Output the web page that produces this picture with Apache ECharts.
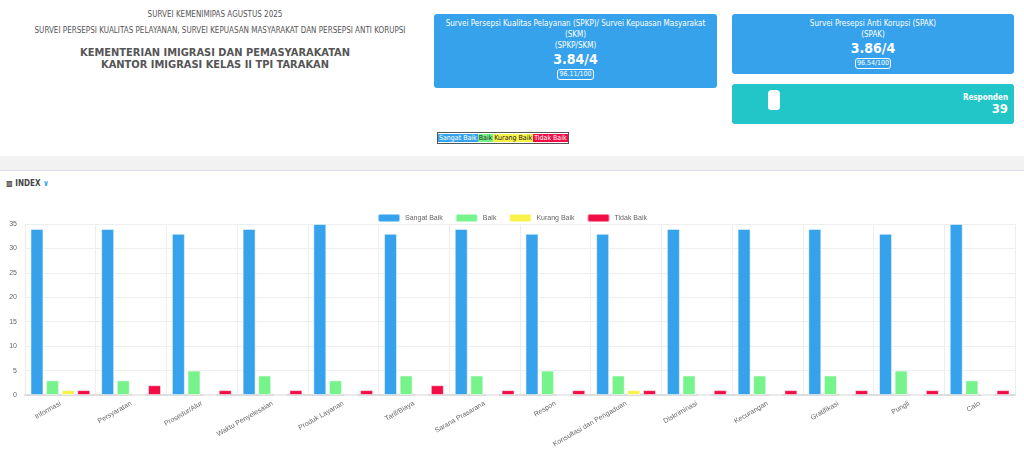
<!DOCTYPE html>
<html><head><meta charset="utf-8">
<script src="https://cdn.jsdelivr.net/npm/echarts@6/dist/echarts.min.js"></script>
<style>
body{margin:0;width:1024px;height:453px;background:#fff;font-family:"Liberation Sans Narrow","DejaVu Sans Condensed",Arial,sans-serif;position:relative;overflow:hidden;color:#555}
.abs{position:absolute}
.card{position:absolute;background:#36a2eb;color:#fff;border-radius:3px;text-align:center;font-size:8px;line-height:11px}
.big{font-size:14px;font-weight:bold;line-height:17px}
.box{display:inline-block;border:1px solid #fff;border-radius:3px;font-size:7px;line-height:9px;padding:0 1px}
</style></head><body>
<div class="abs" style="left:0;width:430px;top:10px;text-align:center;font-size:8px">SURVEI KEMENIMIPAS AGUSTUS 2025</div>
<div class="abs" style="left:20px;width:400px;top:26px;text-align:center;font-size:8px;line-height:10px">SURVEI PERSEPSI KUALITAS PELAYANAN, SURVEI KEPUASAN MASYARAKAT DAN PERSEPSI ANTI KORUPSI</div>
<div class="abs" style="left:0;width:430px;top:47px;text-align:center;font-size:11px;font-weight:bold;line-height:12px">KEMENTERIAN IMIGRASI DAN PEMASYARAKATAN<br>KANTOR IMIGRASI KELAS II TPI TARAKAN</div>
<div class="card" style="left:434px;top:14px;width:283px;height:70px;padding-top:4px">Survei Persepsi Kualitas Pelayanan (SPKP)/ Survei Kepuasan Masyarakat<br>(SKM)<br>(SPKP/SKM)<br><span class="big">3.84/4</span><br><span class="box">96.11/100</span></div>
<div class="card" style="left:732px;top:14px;width:282px;height:56px;padding-top:4px">Survei Presepsi Anti Korupsi (SPAK)<br>(SPAK)<br><span class="big">3.86/4</span><br><span class="box">96.54/100</span></div>
<div class="card" style="left:732px;top:84px;width:282px;height:40px;background:#22c5c8;text-align:right">
<div style="position:absolute;right:6px;top:8px;font-size:8px;font-weight:bold">Responden</div>
<div style="position:absolute;right:6px;top:19px;font-size:13px;font-weight:bold">39</div>
<div style="position:absolute;left:36px;top:6px;width:12px;height:20px;background:#fff;border-radius:4px 4px 3px 3px"></div></div>
<div class="abs" style="left:437px;top:132px;font-size:7px;line-height:10px;border:1px solid #555;color:#fff">
<span style="background:#36a2eb;padding:0 1px">Sangat Baik</span><span style="background:#77f38b;color:#222;padding:0 1px">Baik</span><span style="background:#f7f34a;color:#222;padding:0 1px">Kurang Baik</span><span style="background:#f20d46;padding:0 1px">Tidak Baik</span></div>
<div class="abs" style="left:0;top:156px;width:1024px;height:14px;background:#f2f2f2;border-bottom:1px solid #dde"></div>
<div class="abs" style="left:6px;top:179px;font-size:8px;font-weight:bold;color:#444">&#9641; INDEX <span style="color:#36a2eb">&#8744;</span></div>
<div id="chart" class="abs" style="left:0;top:200px;width:1024px;height:253px"></div>
<script>
var categories = ["Informasi","Persyaratan","Prosedur/Alur","Waktu Penyelesaian","Produk Layanan","Tarif/Biaya","Sarana Prasarana","Respon","Konsultasi dan Pengaduan","Diskriminasi","Kecurangan","Gratifikasi","Pungli","Calo"];
var sangatBaik = [34,34,33,34,35,33,34,33,33,34,34,34,33,35];
var baik = [3,3,5,4,3,4,4,5,4,4,4,4,5,3];
var kurangBaik = [1,0,0,0,0,0,0,0,1,0,0,0,0,0];
var tidakBaik = [1,2,1,1,1,2,1,1,1,1,1,1,1,1];
var chart = echarts.init(document.getElementById("chart"));
function ser(name, data, color) {
    return { name: name, type: "bar", data: data, barWidth: 13, barGap: "20%",
        itemStyle: { color: color, borderColor: "rgba(255,255,255,0.5)", borderWidth: 1 } };
}
chart.setOption({
    animation: false,
    textStyle: { fontFamily: "Liberation Sans, Arial" },
    legend: { top: 8, itemWidth: 22, itemHeight: 8, itemGap: 12, textStyle: { fontSize: 7, color: "#666" },
        data: ["Sangat Baik","Baik","Kurang Baik","Tidak Baik"] },
    grid: { left: 25, right: 9, top: 24, bottom: 58 },
    xAxis: { type: "category", data: categories,
        axisLine: { lineStyle: { color: "#ddd", width: 2 } }, axisTick: { lineStyle: { color: "#e6e6e6" } },
        splitLine: { show: true, lineStyle: { color: "#eee" } },
        axisLabel: { rotate: 30, fontSize: 7, color: "#666", interval: 0 } },
    yAxis: { type: "value", min: 0, max: 35, interval: 5,
        axisLine: { show: false }, axisTick: { show: false },
        splitLine: { lineStyle: { color: "#eee" } },
        axisLabel: { fontSize: 7, color: "#666" } },
    series: [ser("Sangat Baik", sangatBaik, "#36a2eb"), ser("Baik", baik, "#77f38b"),
        ser("Kurang Baik", kurangBaik, "#f7f34a"), ser("Tidak Baik", tidakBaik, "#f20d46")]
});
</script>
</body></html>
